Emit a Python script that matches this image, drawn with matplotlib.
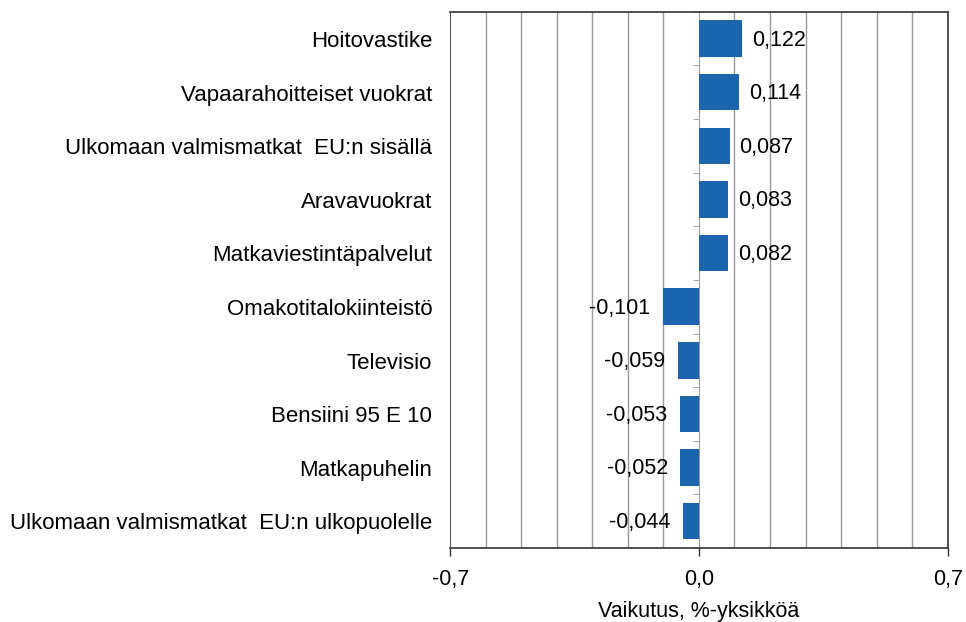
import numpy as np
import matplotlib.pyplot as plt
import matplotlib.transforms as mtransforms

plt.rcParams['font.family'] = ['Liberation Sans', 'DejaVu Sans']

# data
categories = ["Hoitovastike", "Vapaarahoitteiset vuokrat",
              "Ulkomaan valmismatkat  EU:n sisällä", "Aravavuokrat",
              "Matkaviestintäpalvelut", "Omakotitalokiinteistö", "Televisio",
              "Bensiini 95 E 10", "Matkapuhelin",
              "Ulkomaan valmismatkat  EU:n ulkopuolelle"]
values = [0.122, 0.114, 0.087, 0.083, 0.082, -0.101, -0.059, -0.053, -0.052, -0.044]
xticks = [-0.7, 0.0, 0.7]
xlabel = "Vaikutus, %-yksikköä"

fig = plt.figure(figsize=(9.66, 6.22), dpi=100)
ax = fig.add_axes([0.466, 0.119, 0.515, 0.862])

y = np.arange(len(categories))
ax.barh(y, values, height=0.68, color='#1b65af', zorder=3)

ax.set_xlim(-0.7, 0.7)
ax.set_ylim(len(categories) - 0.5, -0.5)

# gridlines every 0.1
ax.set_xticks(np.arange(-0.7, 0.701, 0.1), minor=True)
ax.grid(which='minor', axis='x', color='#999999', linewidth=1.0, zorder=0)
ax.tick_params(axis='x', which='minor', length=0)
ax.set_xticks(xticks)
ax.set_xticklabels([f"{t:.1f}".replace('.', ',') for t in xticks], fontsize=15.5)
ax.tick_params(axis='x', which='major', length=6, width=1, color='#333333', pad=9)
ax.set_xlabel(xlabel, fontsize=15.5, labelpad=8)

# y axis at zero with small ticks between categories
ax.spines['left'].set_position(('data', 0))
ax.spines['left'].set_color('#999999')
ax.set_yticks([])
ax.set_yticks(np.arange(-0.5, len(categories), 1), minor=True)
ax.tick_params(axis='y', which='minor', length=4, color='#999999', labelleft=False)
ax.axvline(-0.7, color='#333333', linewidth=1.2, zorder=4)
for s in ['top', 'right', 'bottom']:
    ax.spines[s].set_color('#333333')
    ax.spines[s].set_linewidth(1.2)

# category labels
trans = mtransforms.blended_transform_factory(ax.transAxes, ax.transData)
for yi, c in zip(y, categories):
    ax.annotate(c, (-0.036, yi), xycoords=trans, xytext=(0, -2),
                textcoords='offset points', ha='right', va='center', fontsize=16)

# value labels
for yi, v in zip(y, values):
    txt = f"{v:.3f}".replace('.', ',')
    if v >= 0:
        ax.annotate(txt, (v, yi), xytext=(7, -1), textcoords='offset points',
                    ha='left', va='center', fontsize=15.5, zorder=5)
    else:
        ax.annotate(txt, (v, yi), xytext=(-9, -1), textcoords='offset points',
                    ha='right', va='center', fontsize=15.5, zorder=5)

fig.savefig('out.png', dpi=100)
